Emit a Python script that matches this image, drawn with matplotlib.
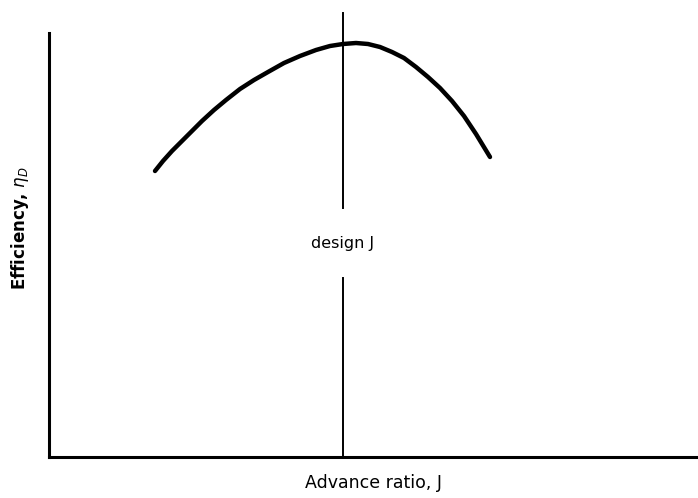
import matplotlib.pyplot as plt

# curve (arbitrary units, origin at axes corner)
j_vals = [106, 114, 123, 133, 143, 153, 165, 177, 191, 205, 219, 235, 251,
          267, 281, 294, 307, 319, 331, 343, 355, 367, 379, 391, 403, 415,
          427, 441]
eta_vals = [286, 296, 306, 316, 326, 336, 347, 357, 368, 377, 385, 394, 401,
            407, 411, 413, 414, 413, 410, 405, 399, 390, 380, 369, 356, 341,
            323, 300]
j_design = 294
design_label = "design J"
x_label = "Advance ratio, J"
y_label = r"Efficiency, $\eta_D$"

plt.rcParams['font.family'] = ['DejaVu Sans']

fig = plt.figure(figsize=(6.98, 4.98), dpi=100)
ax = fig.add_axes([49 / 698, 41 / 498, 649 / 698, 424 / 498])
ax.set_xlim(0, 649)
ax.set_ylim(0, 424)

ax.plot(j_vals, eta_vals, color="black", linewidth=3.2, solid_capstyle="round",
        solid_joinstyle="round")
ax.plot([j_design, j_design], [249, 444], color="black", linewidth=1.4, clip_on=False)
ax.plot([j_design, j_design], [0, 179], color="black", linewidth=1.4)
ax.text(j_design, 214, design_label, ha="center", va="center", fontsize=11.5)

for s in ["top", "right"]:
    ax.spines[s].set_visible(False)
ax.spines["left"].set_linewidth(2.2)
ax.spines["bottom"].set_linewidth(2.2)
ax.set_xticks([])
ax.set_yticks([])

fig.text(373 / 698, 1 - 483 / 498, x_label, ha="center", va="center", fontsize=12.5)
fig.text(20 / 698, 1 - 228 / 498, y_label, ha="center", va="center",
         rotation=90, fontsize=12, fontweight="bold")

plt.savefig("out.png", dpi=100)
